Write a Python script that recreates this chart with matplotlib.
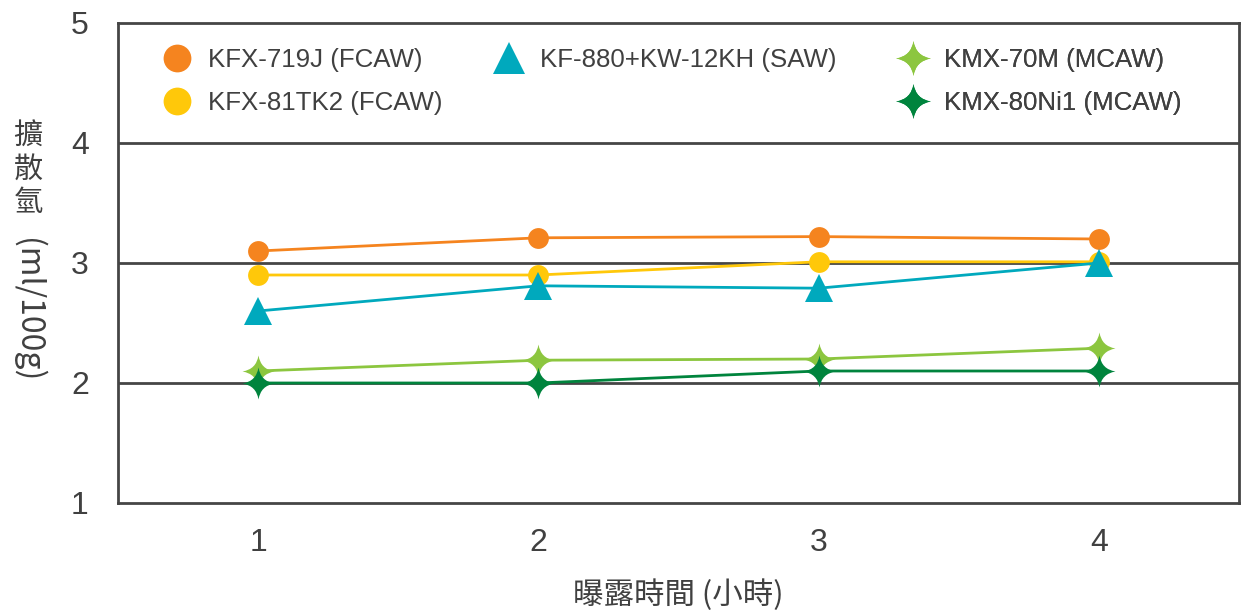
import numpy as np
import matplotlib
matplotlib.use("Agg")
import matplotlib.pyplot as plt
from matplotlib.path import Path
from matplotlib.lines import Line2D

plt.rcParams['font.family'] = ['Liberation Sans', 'Noto Sans CJK TC', 'DejaVu Sans']

# data
hours = [1, 2, 3, 4]
kfx_719j = [3.10, 3.21, 3.22, 3.20]
kfx_81tk2 = [2.90, 2.90, 3.01, 3.01]
kf_880 = [2.60, 2.81, 2.79, 3.00]
kmx_70m = [2.10, 2.19, 2.20, 2.29]
kmx_80ni1 = [2.00, 2.00, 2.10, 2.10]

labels = ["KFX-719J (FCAW)", "KFX-81TK2 (FCAW)", "KF-880+KW-12KH (SAW)",
          "KMX-70M (MCAW)", "KMX-80Ni1 (MCAW)"]
yticks = [1, 2, 3, 4, 5]

text_col = "#404040"
frame_col = "#454545"
W, H = 1242, 614

# four-pointed star with concave sides
c = 0.14
star4 = Path(
    [(0, 1), (c, c), (1, 0), (c, -c), (0, -1), (-c, -c), (-1, 0), (-c, c), (0, 1), (0, 1)],
    [Path.MOVETO, Path.CURVE3, Path.CURVE3, Path.CURVE3, Path.CURVE3,
     Path.CURVE3, Path.CURVE3, Path.CURVE3, Path.CURVE3, Path.CLOSEPOLY],
)

# colour, marker, size in plot, size in legend
series = [
    (kfx_719j, "#F5841F", "o", 15, 20),
    (kfx_81tk2, "#FFC80A", "o", 15, 20),
    (kf_880, "#00A9BD", "^", 19.5, 23),
    (kmx_70m, "#8CC63F", star4, 23, 25),
    (kmx_80ni1, "#00843D", star4, 23, 25),
]

fig = plt.figure(figsize=(W / 100, H / 100), dpi=100)
ax = fig.add_axes([118 / W, 1 - 503 / H, (1239 - 118) / W, (503 - 23) / H])

for y in [2, 3, 4]:
    ax.axhline(y, color=frame_col, lw=2.0, zorder=1)

proxies = []
for (vals, col, mk, ms, lms), lab in zip(series, labels):
    ax.plot(hours, vals, color=col, lw=2.0, marker=mk, markersize=ms,
            markeredgewidth=0, zorder=3)
    proxies.append(Line2D([], [], linestyle='none', color=col, marker=mk,
                          markersize=lms, markeredgewidth=0))

ax.set_xlim(0.5, 4.5)
ax.set_ylim(1, 5)
ax.set_xticks(hours)
ax.set_yticks(yticks)
ax.tick_params(length=0, labelsize=23, colors=text_col)
ax.tick_params(axis='x', pad=18)
ax.tick_params(axis='y', pad=21)
for s in ax.spines.values():
    s.set_color(frame_col)
    s.set_linewidth(2.0)

# legend: one legend per column, placed like the reference
columns = [([0, 1], 161), ([2], 493), ([3, 4], 897)]
for idx, x0 in columns:
    leg = ax.legend([proxies[i] for i in idx], [labels[i] for i in idx],
                    loc='upper left', bbox_to_anchor=(x0 / W, 1 - 48 / H),
                    bbox_transform=fig.transFigure, frameon=False, fontsize=18.6,
                    borderpad=0, borderaxespad=0, handlelength=1.2,
                    handletextpad=0.62, labelspacing=0.72, labelcolor=text_col)
    ax.add_artist(leg)

ax.set_xlabel("曝露時間 (小時)", fontsize=22, color=text_col, labelpad=15,
              family=['Noto Sans CJK TC'])

# vertical y label: upright CJK stacked, unit rotated
for i, ch in enumerate("擴散氫"):
    fig.text(28 / W, 1 - (137 + i * 33) / H, ch, fontsize=21, color=text_col,
             ha='center', va='center', family=['Noto Sans CJK TC'])
fig.text(28 / W, 1 - 310 / H, "(ml/100g)", fontsize=23, color=text_col,
         ha='center', va='center', rotation=-90, family=['Noto Sans CJK TC'])

fig.savefig("out.png", dpi=100)
